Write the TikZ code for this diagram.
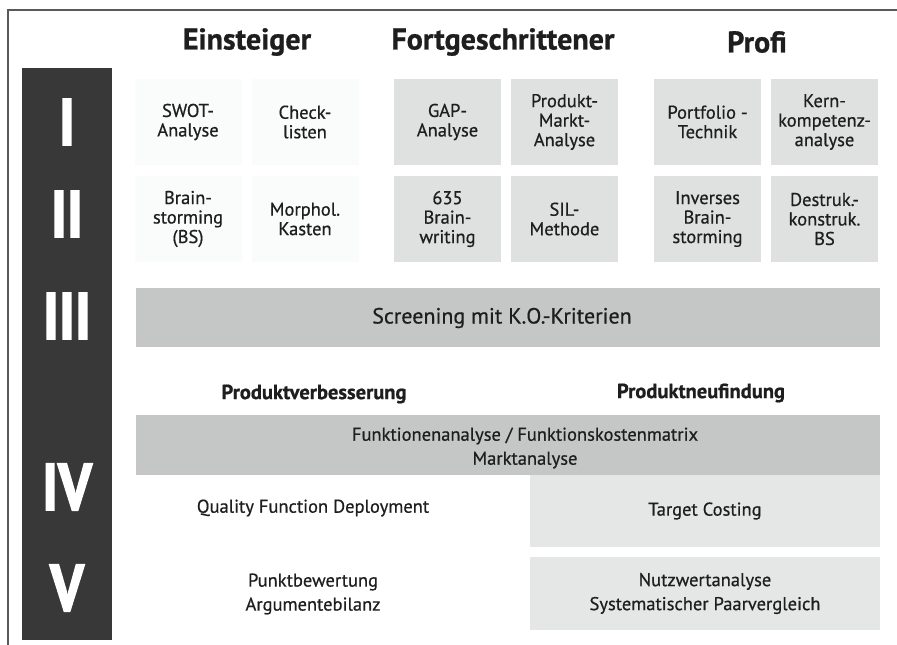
\documentclass[tikz,border=0pt]{standalone}
\usepackage{fontspec}
\setmainfont{PT Sans}
\newfontfamily\kraeftig[FakeBold=0.6]{PT Sans}
\newfontfamily\fett[FakeBold=0.8]{PT Sans Bold}
\newfontfamily\roem[FakeBold=2.5]{PT Sans Bold}
\definecolor{ink}{HTML}{1E1E1E}
\definecolor{stufe}{HTML}{383838}
\definecolor{mittel}{HTML}{C4C7C6}
\definecolor{hell}{HTML}{DEE1E0}
\definecolor{blass}{HTML}{FAFBFB}
\begin{document}
\begin{tikzpicture}[x=1pt,y=-1pt,
  txt/.style={align=center,text=ink,font=\kraeftig\fontsize{18.5}{19.5}\selectfont},
  txtw/.style={txt,font=\kraeftig\fontsize{18.5}{24}\selectfont},
  head/.style={text=ink,font=\fett\fontsize{30}{30}\selectfont},
  sub/.style={text=ink,font=\fett\fontsize{20.5}{22}\selectfont},
  roman/.style={text=white,font=\roem\fontsize{66}{66}\selectfont},
  feld/.style={txt,fill=hell,minimum width=107,minimum height=86,inner sep=0},
  leer/.style={feld,fill=blass},
  balken/.style={fill=mittel,minimum width=744,minimum height=60,inner sep=0}]
\useasboundingbox (0,0) rectangle (897,645);
\draw[line width=1.2pt,black!65] (897,10) -- (8,10) -- (8,645);
% Stufenleiste links
\node[fill=stufe,minimum width=90,minimum height=572,inner sep=0,anchor=north west] (leiste) at (22,68) {};
\node[roman] (s1) at (67,122) {\scalebox{0.85}[1]{I}};
\node[roman] (s2) at (67,214) {\scalebox{0.85}[1]{II}};
\node[roman] (s3) at (67,316) {\scalebox{0.85}[1]{III}};
\node[roman] (s4) at (67,487) {\scalebox{0.85}[1]{IV}};
\node[roman] (s5) at (67,588) {\scalebox{0.85}[1]{V}};
% Spaltenkoepfe
\node[head] (einst) at (247,42) {Einsteiger};
\node[head] (fortg) at (503,42) {Fortgeschrittener};
\node[head] (profi) at (757,42) {Profi};
% Stufe I und II
\node[leer] (swot) at (188,122) {SWOT-\\Analyse};
\node[leer] (check) at (305,122) {Check-\\listen};
\node[feld] (gap) at (447.5,122) {GAP-\\Analyse};
\node[feld] (pma) at (564.5,122) {Produkt-\\Markt-\\Analyse};
\node[feld] (port) at (707.5,122) {Portfolio -\\Technik};
\node[feld] (kern) at (824.5,122) {Kern-\\kompetenz-\\analyse};
\node[leer] (brain) at (188,219) {Brain-\\storming\\(BS)};
\node[leer] (morph) at (305,219) {Morphol.\\Kasten};
\node[feld] (bw) at (447.5,219) {635\\Brain-\\writing};
\node[feld] (sil) at (564.5,219) {SIL-\\Methode};
\node[feld] (invers) at (707.5,219) {Inverses\\Brain-\\storming};
\node[feld] (destr) at (824.5,219) {Destruk.-\\konstruk.\\BS};
% Stufe III
\node[balken,minimum height=59] (screen) at (508,317.5) {};
\node[txt,font=\kraeftig\fontsize{22}{24}\selectfont] (screentxt) at (502,318) {Screening mit K.O.-Kriterien};
% Stufe IV und V
\node[sub] (verb) at (314,394) {Produktverbesserung};
\node[sub] (neu) at (701,393) {Produktneufindung};
\node[balken] (funk) at (508,445) {};
\node[txtw] (funktxt) at (525,448) {Funktionenanalyse / Funktionskostenmatrix\\Marktanalyse};
\node[txt] (qfd) at (313,508) {Quality Function Deployment};
\node[txt,fill=hell!80,minimum width=350,minimum height=72,inner sep=0] (target) at (705,511) {Target Costing};
\node[txtw] (punkt) at (313,594) {Punktbewertung\\Argumentebilanz};
\node[txtw,fill=hell!80,minimum width=350,minimum height=73,inner sep=0] (nutz) at (705,593.5) {Nutzwertanalyse\\Systematischer Paarvergleich};
\end{tikzpicture}
\end{document}
